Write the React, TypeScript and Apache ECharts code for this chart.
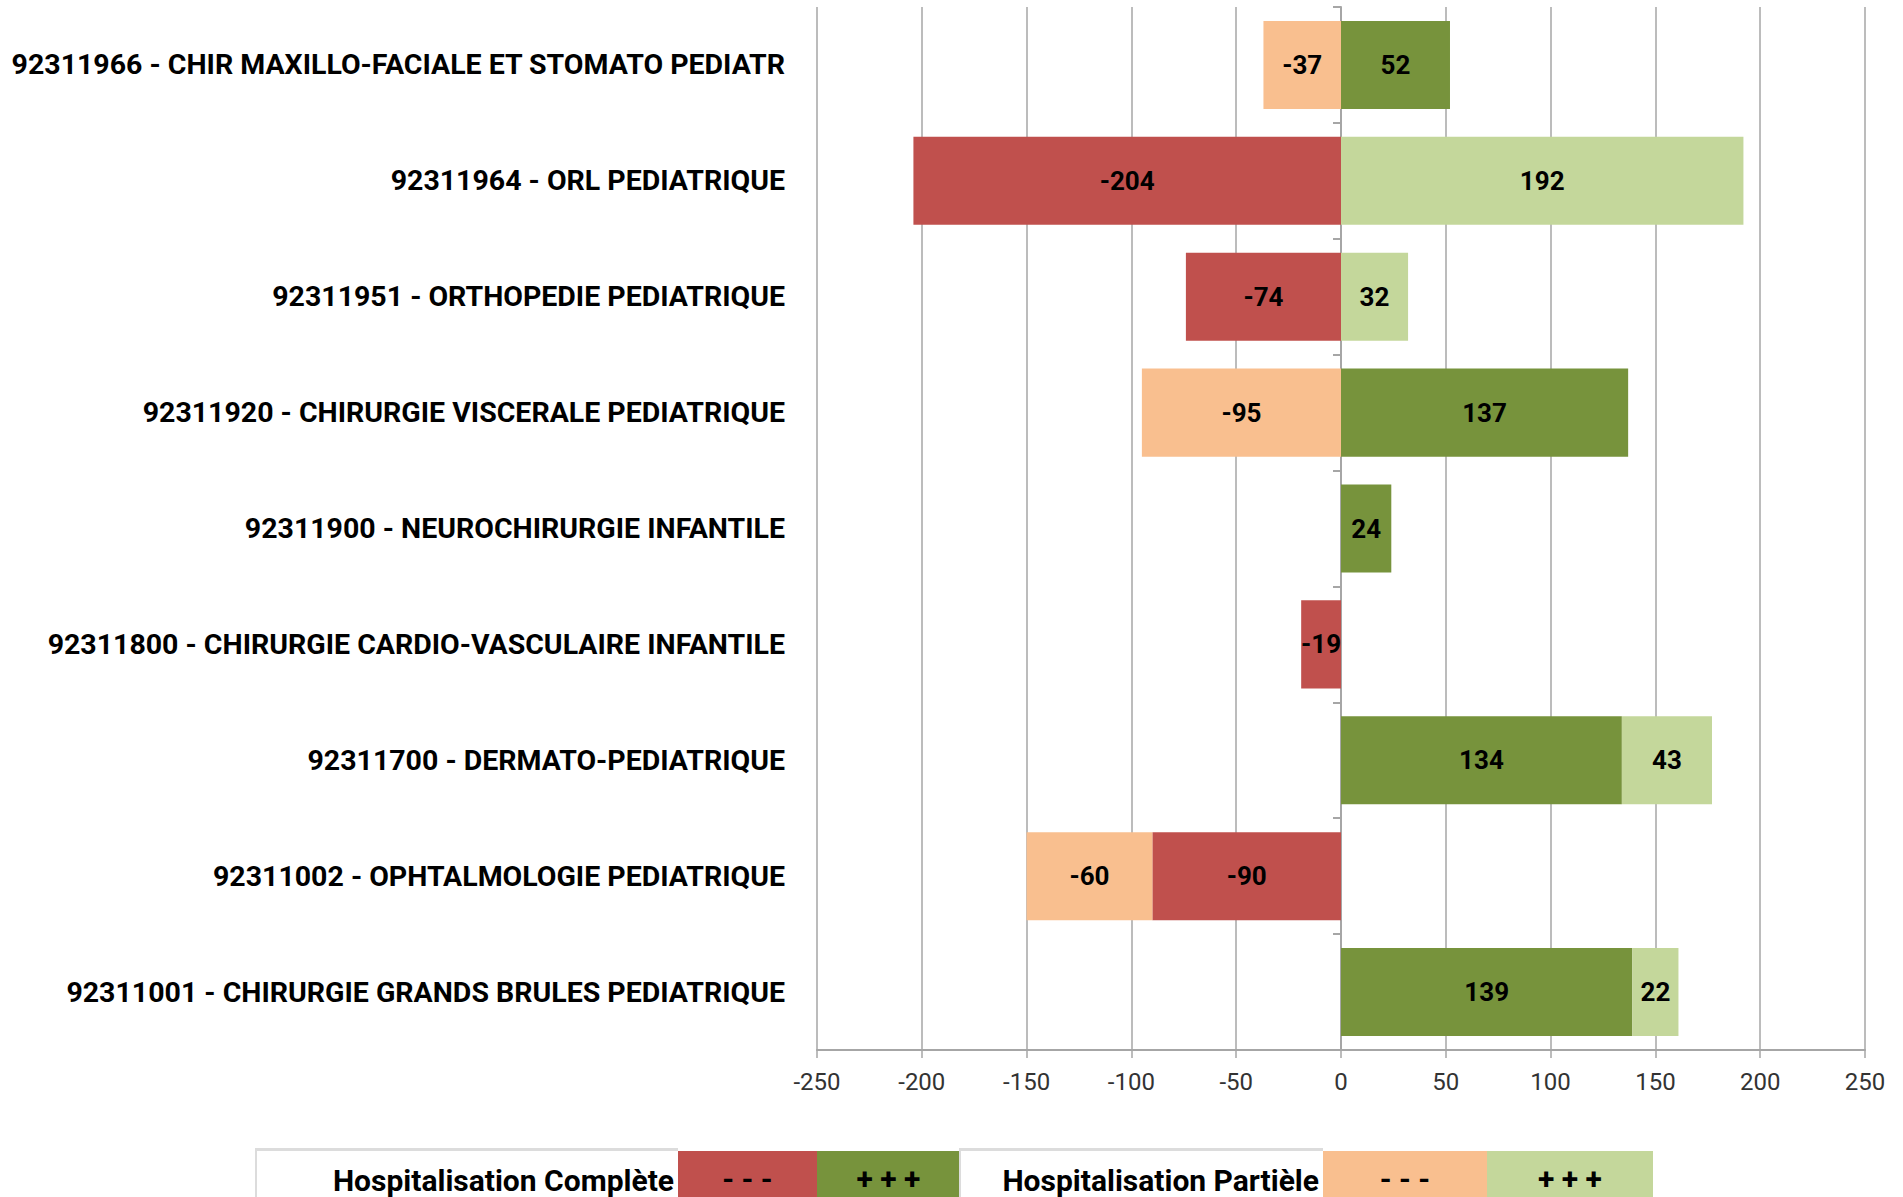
import React, { useEffect, useRef } from "react";
import * as echarts from "echarts";

const categories = [
  "92311966 - CHIR MAXILLO-FACIALE ET STOMATO PEDIATR",
  "92311964 - ORL PEDIATRIQUE",
  "92311951 - ORTHOPEDIE PEDIATRIQUE",
  "92311920 - CHIRURGIE VISCERALE PEDIATRIQUE",
  "92311900 - NEUROCHIRURGIE INFANTILE",
  "92311800 - CHIRURGIE CARDIO-VASCULAIRE INFANTILE",
  "92311700 - DERMATO-PEDIATRIQUE",
  "92311002 - OPHTALMOLOGIE PEDIATRIQUE",
  "92311001 - CHIRURGIE GRANDS BRULES PEDIATRIQUE",
];

const hcNeg = [null, -204, -74, null, null, -19, null, -90, null];
const hcPos = [52, null, null, 137, 24, null, 134, null, 139];
const hpNeg = [-37, null, null, -95, null, null, null, -60, null];
const hpPos = [null, 192, 32, null, null, null, 43, null, 22];

const xTicks = { min: -250, max: 250, interval: 50 };

const legendGroups = ["Hospitalisation Complète", "Hospitalisation Partièle"];
const legendSigns = ["- - -", "+ + +"];

const COLORS = {
  hcNeg: "#C0504D",
  hcPos: "#77933C",
  hpNeg: "#F9BF8F",
  hpPos: "#C4D79B",
};

const FONT = "Roboto, 'Noto Sans', sans-serif";
const GRID_COLOR = "#a6a6a6";

export default function App() {
  const ref = useRef<HTMLDivElement>(null);

  useEffect(() => {
    const chart = echarts.init(ref.current!, null, { renderer: "svg" });

    const mkSeries = (name: string, data: (number | null)[], color: string) => ({
      name,
      type: "bar",
      stack: "total",
      yAxisIndex: 0,
      barCategoryGap: "24%",
      data,
      itemStyle: { color },
      label: {
        show: true,
        position: "inside",
        fontSize: 26,
        fontWeight: "bold",
        color: "#000",
        fontFamily: FONT,
        textBorderWidth: 0,
        formatter: (p: any) => String(p.value),
      },
    });

    const legendCell = (x: number, w: number, fill: string, text: string) => ({
      type: "group",
      children: [
        { type: "rect", shape: { x, y: 1151, width: w, height: 50 }, style: { fill } },
        {
          type: "text",
          x: x + w / 2,
          y: 1178,
          style: {
            text,
            fill: "#000",
            font: `bold 30px ${FONT}`,
            textAlign: "center",
            textVerticalAlign: "middle",
          },
        },
      ],
    });

    const whiteCell = (x: number, w: number, text: string) => ({
      type: "group",
      children: [
        { type: "rect", shape: { x: x - 1, y: 1148, width: w + 1, height: 60 }, style: { fill: "#dcdcdc" } },
        { type: "rect", shape: { x: x + 1, y: 1151, width: w - 1, height: 50 }, style: { fill: "#fff" } },
        {
          type: "text",
          x: x + w - 4,
          y: 1180,
          style: {
            text,
            fill: "#000",
            font: `bold 30px ${FONT}`,
            textAlign: "right",
            textVerticalAlign: "middle",
          },
        },
      ],
    });

    chart.setOption({
      animation: false,
      textStyle: { fontFamily: FONT },
      grid: { left: 817, top: 7, width: 1048, height: 1043 },
      xAxis: {
        type: "value",
        min: xTicks.min,
        max: xTicks.max,
        interval: xTicks.interval,
        axisLine: { show: true, onZero: false, lineStyle: { color: GRID_COLOR, width: 2 } },
        axisTick: { show: true, length: 8, lineStyle: { color: GRID_COLOR, width: 1.5 } },
        splitLine: { show: true, lineStyle: { color: GRID_COLOR, width: 1.5 } },
        axisLabel: { fontSize: 24, color: "#333", margin: 20, fontFamily: FONT },
      },
      yAxis: [
        {
          type: "category",
          data: categories,
          inverse: true,
          axisLine: { show: false, onZero: false },
          axisTick: { show: false },
          axisLabel: { fontSize: 28.5, fontWeight: "bold", color: "#000", margin: 32, fontFamily: FONT },
        },
        {
          type: "category",
          data: categories,
          inverse: true,
          position: "left",
          axisLine: { show: true, onZero: true, lineStyle: { color: GRID_COLOR, width: 2 } },
          axisTick: { show: true, length: 8, lineStyle: { color: GRID_COLOR, width: 2 } },
          axisLabel: { show: false },
          splitLine: { show: false },
        },
      ],
      series: [
        mkSeries("HC ---", hcNeg, COLORS.hcNeg),
        mkSeries("HC +++", hcPos, COLORS.hcPos),
        mkSeries("HP ---", hpNeg, COLORS.hpNeg),
        mkSeries("HP +++", hpPos, COLORS.hpPos),
      ],
      graphic: [
        whiteCell(256, 422, legendGroups[0]),
        legendCell(678, 139, COLORS.hcNeg, legendSigns[0]),
        legendCell(817, 143, COLORS.hcPos, legendSigns[1]),
        whiteCell(960, 363, legendGroups[1]),
        legendCell(1323, 164, COLORS.hpNeg, legendSigns[0]),
        legendCell(1487, 166, COLORS.hpPos, legendSigns[1]),
      ],
    });

    return () => chart.dispose();
  }, []);

  return (
    <div
      ref={ref}
      style={{ position: "absolute", left: 0, top: 0, width: 1903, height: 1197 }}
    />
  );
}
